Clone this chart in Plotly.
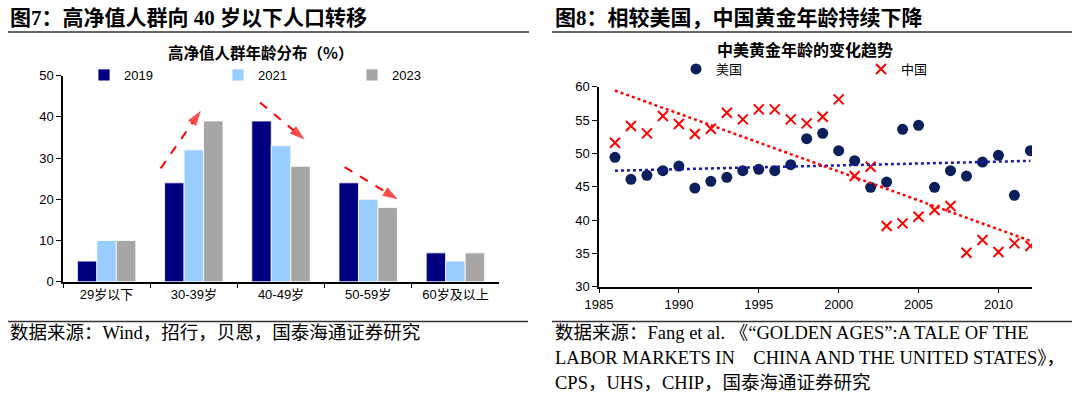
import numpy as np
import plotly.graph_objects as go

W, H = 1080, 397

# ---------------- data ----------------
age_groups = ["29岁以下", "30-39岁", "40-49岁", "50-59岁", "60岁及以上"]
hnw_2019 = [5, 24, 39, 24, 7]
hnw_2021 = [10, 32, 33, 20, 5]
hnw_2023 = [10, 39, 28, 18, 7]

years = [1986, 1987, 1988, 1989, 1990, 1991, 1992, 1993, 1994, 1995, 1996, 1997, 1998,
         1999, 2000, 2001, 2002, 2003, 2004, 2005, 2006, 2007, 2008, 2009, 2010, 2011, 2012]
us_age = [49.4, 46.1, 46.7, 47.4, 48.1, 44.8, 45.8, 46.4, 47.4, 47.6, 47.4, 48.3, 52.2,
          53.0, 50.4, 48.9, 44.9, 45.7, 53.6, 54.2, 44.9, 47.4, 46.6, 48.7, 49.7, 43.7, 50.4]
cn_age = [51.6, 54.1, 53.0, 55.6, 54.4, 52.9, 53.7, 56.1, 55.1, 56.6, 56.6, 55.1, 54.5,
          55.5, 58.1, 46.6, 48.0, 39.1, 39.5, 40.5, 41.5, 42.1, 35.1, 37.0, 35.2, 36.5, 36.1]

# decorative trend arrows on the left chart (category-index x, value y)
arrow1_x = [0.62, 1.08]; arrow1_y = [27.5, 41.5]
arrow2_x = [1.76, 2.27]; arrow2_y = [43.5, 34.5]
arrow3_x = [2.73, 3.34]; arrow3_y = [27.8, 20.0]


def px(x):
    return x / W


def py(y):
    return 1 - y / H


fig = go.Figure()

bar_colors = ["#000080", "#99CCFF", "#A6A6A6"]
for name, vals, col in zip(["2019", "2021", "2023"], [hnw_2019, hnw_2021, hnw_2023], bar_colors):
    fig.add_trace(go.Bar(x=age_groups, y=vals, name=name, marker=dict(color=col, line=dict(color="white", width=0.8)),
                         xaxis="x", yaxis="y", legend="legend"))

for ax_, ay_ in [(arrow1_x, arrow1_y), (arrow2_x, arrow2_y), (arrow3_x, arrow3_y)]:
    fig.add_trace(go.Scatter(x=ax_, y=ay_, mode="lines+markers", xaxis="x3", yaxis="y",
                             line=dict(color="#FF0000", width=2, dash="dash"),
                             marker=dict(symbol="arrow", angleref="previous", size=[0, 16], color="#FF0000",
                                         line=dict(width=0)),
                             showlegend=False, hoverinfo="skip"))

# right chart
fig.add_trace(go.Scatter(x=years, y=us_age, mode="markers", name="美国", xaxis="x2", yaxis="y2",
                         marker=dict(symbol="circle", size=11, color="#0B1F5C"), legend="legend2"))
fig.add_trace(go.Scatter(x=years, y=cn_age, mode="markers", name="中国", xaxis="x2", yaxis="y2",
                         marker=dict(symbol="x-thin", size=10, line=dict(color="#FF0000", width=2), color="#FF0000"),
                         legend="legend2"))

yr = np.array(years, dtype=float)
for vals, col in [(us_age, "#1A1AA6"), (cn_age, "#FF0000")]:
    k, b = np.polyfit(yr, np.array(vals), 1)
    xs = [yr.min(), yr.max()]
    fig.add_trace(go.Scatter(x=xs, y=[k * v + b for v in xs], mode="lines", xaxis="x2", yaxis="y2",
                             line=dict(color=col, width=2.5, dash="dot"), showlegend=False, hoverinfo="skip"))

tick_font = dict(family="Liberation Sans, Arial, Noto Sans CJK SC", size=13, color="#000000")

fig.update_layout(
    width=W, height=H,
    margin=dict(l=0, r=0, t=0, b=0, autoexpand=False),
    paper_bgcolor="white", plot_bgcolor="white",
    barmode="group", bargap=0.33, bargroupgap=0,
    xaxis=dict(domain=[px(63), px(499)], anchor="y", type="category", showline=True, linecolor="#000",
               linewidth=1.5, ticks="outside", tickson="boundaries", ticklen=5, tickcolor="#000",
               tickfont=tick_font, showgrid=False, range=[-0.5, 4.5], automargin=False),
    xaxis3=dict(domain=[px(63), px(499)], anchor="y", overlaying="x", range=[-0.5, 4.5], visible=False),
    yaxis=dict(domain=[py(281.7), py(75.7)], anchor="x", range=[0, 50], dtick=10, showline=True,
               linecolor="#000", linewidth=1.5, ticks="outside", ticklen=5, tickcolor="#000",
               tickfont=tick_font, showgrid=False, zeroline=False, automargin=False),
    xaxis2=dict(domain=[px(599), px(1032)], anchor="y2", range=[1985, 2012.1], dtick=5, tick0=1985,
                showline=True, linecolor="#000", linewidth=1.5, ticks="outside", ticklen=5, tickcolor="#000",
                tickfont=tick_font, showgrid=False, zeroline=False, automargin=False),
    yaxis2=dict(domain=[py(286.7), py(86.7)], anchor="x2", range=[30, 60], dtick=5, showline=True,
                linecolor="#000", linewidth=1.5, ticks="outside", ticklen=5, tickcolor="#000",
                tickfont=tick_font, showgrid=False, zeroline=False, automargin=False),
    legend=dict(orientation="h", x=px(84), y=py(75), xanchor="left", yanchor="middle",
                entrywidth=89, font=tick_font, bgcolor="rgba(0,0,0,0)", itemwidth=30),
    legend2=dict(orientation="h", x=px(676), y=py(69), xanchor="left", yanchor="middle",
                 entrywidth=140, font=dict(family="Noto Sans CJK SC", size=13, color="#000"),
                 bgcolor="rgba(0,0,0,0)", itemwidth=30),
    showlegend=True,
)

title_font = dict(family="Liberation Serif, Noto Sans CJK SC", size=21, color="#000")
sub_font = dict(family="Noto Sans CJK SC", size=16, color="#000")
src_font = dict(family="Liberation Serif, Noto Sans CJK SC", size=18.5, color="#000")

ann = [
    dict(text="<b>图7：高净值人群向 40 岁以下人口转移</b>", x=px(8), y=py(18), xanchor="left", yanchor="middle", font=title_font),
    dict(text="<b>图8：相较美国，中国黄金年龄持续下降</b>", x=px(553), y=py(18), xanchor="left", yanchor="middle", font=title_font),
    dict(text="<b>高净值人群年龄分布（%）</b>", x=px(260), y=py(52), xanchor="center", yanchor="middle", font=dict(family="Noto Sans CJK SC", size=15.5, color="#000")),
    dict(text="<b>中美黄金年龄的变化趋势</b>", x=px(805), y=py(49), xanchor="center", yanchor="middle", font=sub_font),
    dict(text="数据来源：Wind，招行，贝恩，国泰海通证券研究", x=px(8), y=py(333), xanchor="left", yanchor="middle", font=src_font),
    dict(text="数据来源：Fang et al. 《“GOLDEN AGES”:A TALE OF THE", x=px(553), y=py(333), xanchor="left", yanchor="middle", font=src_font),
    dict(text="LABOR MARKETS IN    CHINA AND THE UNITED STATES》，", x=px(553), y=py(358), xanchor="left", yanchor="middle", font=src_font),
    dict(text="CPS，UHS，CHIP，国泰海通证券研究", x=px(553), y=py(383), xanchor="left", yanchor="middle", font=src_font),
]
for a in ann:
    a.update(xref="paper", yref="paper", showarrow=False)
fig.update_layout(annotations=ann)

lines = [(8, 529, 32), (552, 1072, 32), (8, 528, 321.5), (552, 1072, 321.5)]
fig.update_layout(shapes=[dict(type="line", xref="paper", yref="paper", x0=px(a), x1=px(b), y0=py(y), y1=py(y),
                               line=dict(color="#333333", width=1.5)) for a, b, y in lines])

fig.write_html("out.html", config={"displayModeBar": False},
               post_script="document.body.style.margin='0';")
